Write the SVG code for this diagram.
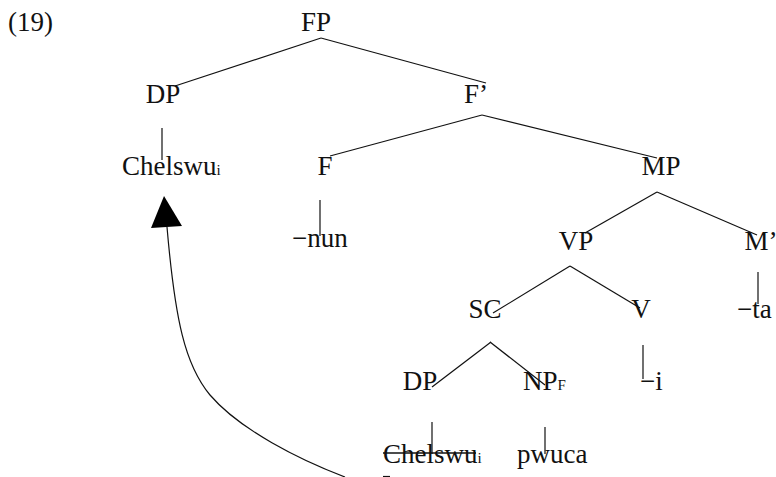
<svg xmlns="http://www.w3.org/2000/svg" width="776" height="477" viewBox="0 0 776 477">
  <style>
    text { font-family: "Liberation Serif", "Times New Roman", serif; font-size: 27px; fill: #111; }
    .c { text-anchor: middle; }
    .sub { font-size: 15px; }
    .edge { stroke: #111; stroke-width: 1.2; fill: none; }
  </style>
  <rect width="776" height="477" fill="#fff"/>

  <text x="8" y="31" font-size="24">(19)</text>

  <!-- tree branches -->
  <g id="connectors">
    <line class="edge" x1="321" y1="38" x2="175" y2="86"/>
    <line class="edge" x1="321" y1="38" x2="486" y2="83"/>
    <line class="edge" x1="162" y1="128" x2="162" y2="160"/>
    <line class="edge" x1="482" y1="115" x2="330" y2="156"/>
    <line class="edge" x1="482" y1="115" x2="657" y2="158"/>
    <line class="edge" x1="320" y1="200" x2="320" y2="236"/>
    <line class="edge" x1="657" y1="192" x2="585" y2="233"/>
    <line class="edge" x1="657" y1="192" x2="757" y2="235"/>
    <line class="edge" x1="570" y1="266" x2="493" y2="313"/>
    <line class="edge" x1="570" y1="266" x2="640" y2="308"/>
    <line class="edge" x1="758" y1="272" x2="758" y2="304"/>
    <line class="edge" x1="491" y1="342" x2="432" y2="387"/>
    <line class="edge" x1="490" y1="342" x2="545" y2="385"/>
    <line class="edge" x1="643" y1="345" x2="643" y2="379"/>
    <line class="edge" x1="432" y1="422" x2="432" y2="454"/>
    <line class="edge" x1="545" y1="427" x2="545" y2="454"/>
    <!-- movement arrow -->
    <path class="edge" d="M345,477 C300,460 240,430 210,395 C185,365 175,320 167,227"/>
    <polygon points="164,196 151,228 182,226" fill="#000"/>
    <line class="edge" x1="383" y1="476.5" x2="390" y2="476.5"/>
  </g>

  <g id="FP"><text class="c" x="316" y="31">FP</text></g>
  <g id="DP1"><text class="c" x="163" y="103">DP</text></g>
  <g id="Fbar"><text class="c" x="476" y="103">F’</text></g>
  <g id="Chelswu1"><text x="122" y="175">Chelswu<tspan class="sub">i</tspan></text></g>
  <g id="F"><text class="c" x="325" y="175">F</text></g>
  <g id="MP"><text class="c" x="661" y="175">MP</text></g>
  <g id="nun"><text x="292" y="247">−nun</text></g>
  <g id="VP"><text class="c" x="576" y="250">VP</text></g>
  <g id="Mbar"><text class="c" x="761" y="250">M’</text></g>
  <g id="SC"><text class="c" x="485" y="318">SC</text></g>
  <g id="V"><text class="c" x="641" y="318">V</text></g>
  <g id="ta"><text x="737" y="318">−ta</text></g>
  <g id="DP2"><text class="c" x="420" y="390">DP</text></g>
  <g id="NPF"><text x="523" y="390">NP<tspan class="sub">F</tspan></text></g>
  <g id="i"><text x="640" y="390">−i</text></g>
  <g id="Chelswu2">
    <text x="383" y="463">Chelswu<tspan class="sub">i</tspan></text>
    <line x1="383" y1="453" x2="476" y2="453" stroke="#111" stroke-width="1.5"/>
  </g>
  <g id="pwuca"><text x="517" y="463">pwuca</text></g>
</svg>
